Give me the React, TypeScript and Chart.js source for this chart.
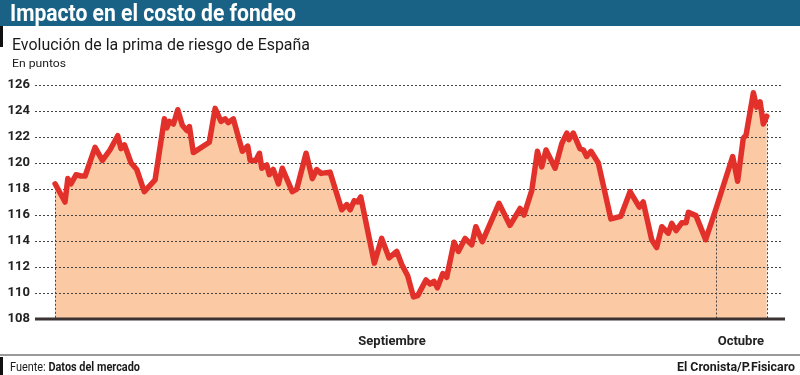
import React, { useEffect, useRef } from "react";
import { Chart, registerables } from "chart.js";

Chart.register(...registerables);

// Time axis: days counted from 1 September (fractional positions)
const days = [
  -0.6, -0.14, -0.01, 0.14, 0.37, 0.59, 0.79, 1.25, 1.59, 1.94,
  2.3, 2.45, 2.61, 2.92, 3.18, 3.53, 4.03, 4.46, 4.57, 4.69,
  4.88, 5.08, 5.29, 5.5, 5.62, 5.8, 6.54, 6.81, 7.08, 7.27,
  7.42, 7.65, 8.07, 8.32, 8.43, 8.69, 8.86, 8.97, 9.2, 9.32,
  9.5, 9.74, 9.92, 10.38, 10.59, 11.02, 11.31, 11.51, 11.71, 12.13,
  12.67, 12.9, 13.06, 13.25, 13.41, 13.55, 14.18, 14.52, 14.86, 15.22,
  15.45, 15.73, 15.99, 16.19, 16.57, 16.76, 16.94, 17.1, 17.35, 17.53,
  17.87, 18.07, 18.38, 18.69, 18.88, 19.18, 19.95, 20.46, 20.93, 21.11,
  21.47, 21.73, 21.93, 22.13, 22.55, 22.86, 23.09, 23.19, 23.39, 23.7,
  23.86, 24.01, 24.21, 24.55, 25.13, 25.59, 26.02, 26.45, 26.63, 27.02,
  27.25, 27.49, 27.79, 27.95, 28.15, 28.41, 28.61, 28.72, 29.07, 29.52,
  30.0, 30.77, 31.0, 31.26, 31.39, 31.73, 31.88, 32.04, 32.19, 32.35,
];

// Prima de riesgo (puntos)
const prima = [
  118.4, 117.0, 118.8, 118.4, 119.1, 119.0, 119.0, 121.2, 120.2, 121.0,
  122.1, 121.1, 121.4, 120.0, 119.5, 117.8, 118.7, 123.4, 122.7, 123.2,
  123.0, 124.1, 122.9, 122.5, 122.8, 120.8, 121.6, 124.2, 123.2, 123.4,
  123.1, 123.4, 120.9, 121.3, 120.2, 120.2, 120.75, 119.6, 119.85, 119.1,
  119.5, 118.4, 119.6, 117.8, 118.0, 120.75, 118.8, 119.5, 119.2, 119.3,
  116.4, 116.8, 116.4, 117.1, 117.0, 117.4, 112.3, 114.2, 112.7, 113.2,
  112.2, 111.3, 109.7, 109.8, 111.0, 110.7, 110.9, 110.4, 111.5, 111.2,
  113.9, 113.2, 114.2, 113.7, 115.1, 113.95, 116.9, 115.2, 116.5, 116.0,
  117.9, 120.9, 119.7, 121.0, 119.6, 121.5, 122.3, 121.8, 122.3, 121.1,
  121.0, 120.5, 120.9, 120.0, 115.7, 115.9, 117.8, 116.6, 117.0, 114.1,
  113.5, 115.1, 114.6, 115.35, 114.8, 115.4, 115.4, 116.2, 115.95, 114.1,
  116.5, 120.5, 118.6, 121.9, 122.15, 125.4, 124.3, 124.7, 123.0, 123.6,
];

const yMin = 108;
const yMax = 126;
const yStep = 2;
const xMin = -1.53;
const xMax = 33.1;
const monthLabels = ["Septiembre", "Octubre"];
const monthCenters = [15, 31.15];
const dropDays = [-0.6, 30.0, 32.35];

const FAMILY = "Roboto";

let mctx: CanvasRenderingContext2D | null = null;
function measure(text: string, font: string): number {
  if (!mctx) mctx = document.createElement("canvas").getContext("2d");
  if (!mctx) return text.length * 7;
  mctx.font = font;
  return mctx.measureText(text).width;
}

type Part = { t: string; w: number };

function Txt(props: {
  parts: Part[];
  x: number;
  baseline: number;
  size: number;
  width: number;
  color: string;
  align?: "left" | "right";
}) {
  const { parts, x, baseline, size, width, color, align } = props;
  const natural = parts.reduce(
    (s, p) => s + measure(p.t, `${p.w} ${size}px ${FAMILY}`),
    0
  );
  const sx = natural > 0 ? width / natural : 1;
  const left = align === "right" ? x - width : x;
  return (
    <div
      style={{
        position: "absolute",
        left,
        top: baseline - 0.842 * size,
        whiteSpace: "nowrap",
        fontFamily: FAMILY,
        fontSize: size,
        lineHeight: 1,
        color,
        transform: `scaleX(${sx})`,
        transformOrigin: "left top",
      }}
    >
      {parts.map((p, i) => (
        <span key={i} style={{ fontWeight: p.w }}>
          {p.t}
        </span>
      ))}
    </div>
  );
}

const overlayPlugin = {
  id: "overlay",
  beforeDatasetDraw(chart: any) {
    const { ctx, chartArea } = chart;
    // dotted grid visible over the filled area
    chart.scales.y.drawGrid(chartArea);
    const meta = chart.getDatasetMeta(0);
    ctx.save();
    ctx.strokeStyle = "#444";
    ctx.lineWidth = 1;
    ctx.setLineDash([2, 2]);
    dropDays.forEach((d) => {
      const i = days.indexOf(d);
      const p = meta.data[i];
      if (!p) return;
      const x = Math.round(p.x) + 0.5;
      ctx.beginPath();
      ctx.moveTo(x, p.y);
      ctx.lineTo(x, chartArea.bottom);
      ctx.stroke();
    });
    ctx.restore();
  },
  afterDatasetsDraw(chart: any) {
    const { ctx, chartArea } = chart;
    const y = chart.scales.y.getPixelForValue(yMin);
    ctx.save();
    ctx.fillStyle = "#3b3232";
    ctx.fillRect(chartArea.left, y - 1.5, chartArea.right - chartArea.left + 2, 3);
    ctx.restore();
  },
};

export default function App() {
  const canvasRef = useRef<HTMLCanvasElement | null>(null);

  useEffect(() => {
    if (!canvasRef.current) return;
    const chart = new Chart(canvasRef.current, {
      type: "line",
      data: {
        datasets: [
          {
            data: days.map((d, i) => ({ x: d, y: prima[i] })),
            borderColor: "#e2312b",
            borderWidth: 5.5,
            backgroundColor: "#fbc9a4",
            fill: "start",
            pointRadius: 0,
            tension: 0,
            borderJoinStyle: "round",
            borderCapStyle: "round",
          },
        ],
      },
      options: {
        responsive: false,
        animation: false,
        layout: { padding: { top: 85, right: 17, left: 0, bottom: 0 } },
        plugins: { legend: { display: false }, tooltip: { enabled: false } },
        scales: {
          x: {
            type: "linear",
            min: xMin,
            max: xMax,
            afterBuildTicks: (s: any) => {
              s.ticks = monthCenters.map((v) => ({ value: v }));
            },
            afterFit: (s: any) => {
              s.height = 56;
            },
            ticks: {
              autoSkip: false,
              maxRotation: 0,
              padding: 7,
              font: { family: FAMILY, size: 13, weight: "bold" },
              color: "#222",
              callback: (_v: any, i: number) => monthLabels[i],
            },
            grid: { display: false },
            border: { display: false },
          },
          y: {
            min: yMin,
            max: yMax,
            afterFit: (s: any) => {
              s.width = 35;
            },
            ticks: {
              stepSize: yStep,
              padding: 5,
              font: { family: FAMILY, size: 13, weight: "bold" },
              color: "#222",
            },
            grid: {
              drawTicks: false,
              lineWidth: 1,
              color: (c: any) =>
                c.tick && c.tick.value === yMin ? "rgba(0,0,0,0)" : "#444",
            },
            border: { display: false, dash: [2, 2] },
          },
        },
      },
      plugins: [overlayPlugin],
    } as any);
    return () => chart.destroy();
  }, []);

  return (
    <div
      style={{
        position: "fixed",
        left: 0,
        top: 0,
        width: 800,
        height: 375,
        background: "#fff",
        overflow: "hidden",
      }}
    >
      <canvas
        ref={canvasRef}
        width={800}
        height={375}
        style={{ position: "absolute", left: 0, top: 0, display: "block" }}
      />
      <div
        style={{
          position: "absolute",
          left: 0,
          top: 0,
          width: 800,
          height: 26,
          background: "#196285",
        }}
      />
      <div
        style={{
          position: "absolute",
          left: 0,
          top: 26,
          width: 3,
          height: 21,
          background: "#111",
        }}
      />
      <Txt
        parts={[{ t: "Impacto en el costo de fondeo", w: 700 }]}
        x={10}
        baseline={21}
        size={24}
        width={286}
        color="#fff"
      />
      <Txt
        parts={[{ t: "Evolución de la prima de riesgo de España", w: 400 }]}
        x={12}
        baseline={50}
        size={17}
        width={298}
        color="#1a1a1a"
      />
      <Txt
        parts={[{ t: "En puntos", w: 400 }]}
        x={12}
        baseline={68}
        size={11.5}
        width={54}
        color="#1a1a1a"
      />
      <div
        style={{
          position: "absolute",
          left: 0,
          top: 354,
          width: 800,
          height: 2,
          background: "#9a9a9a",
        }}
      />
      <div
        style={{
          position: "absolute",
          left: 0,
          top: 357,
          width: 3,
          height: 18,
          background: "#111",
        }}
      />
      <Txt
        parts={[
          { t: "Fuente: ", w: 400 },
          { t: "Datos del mercado", w: 700 },
        ]}
        x={10}
        baseline={371}
        size={12}
        width={130}
        color="#1a1a1a"
      />
      <Txt
        parts={[{ t: "El Cronista/P.Fisicaro", w: 700 }]}
        x={795}
        baseline={371}
        size={12}
        width={118}
        color="#1a1a1a"
        align="right"
      />
    </div>
  );
}
